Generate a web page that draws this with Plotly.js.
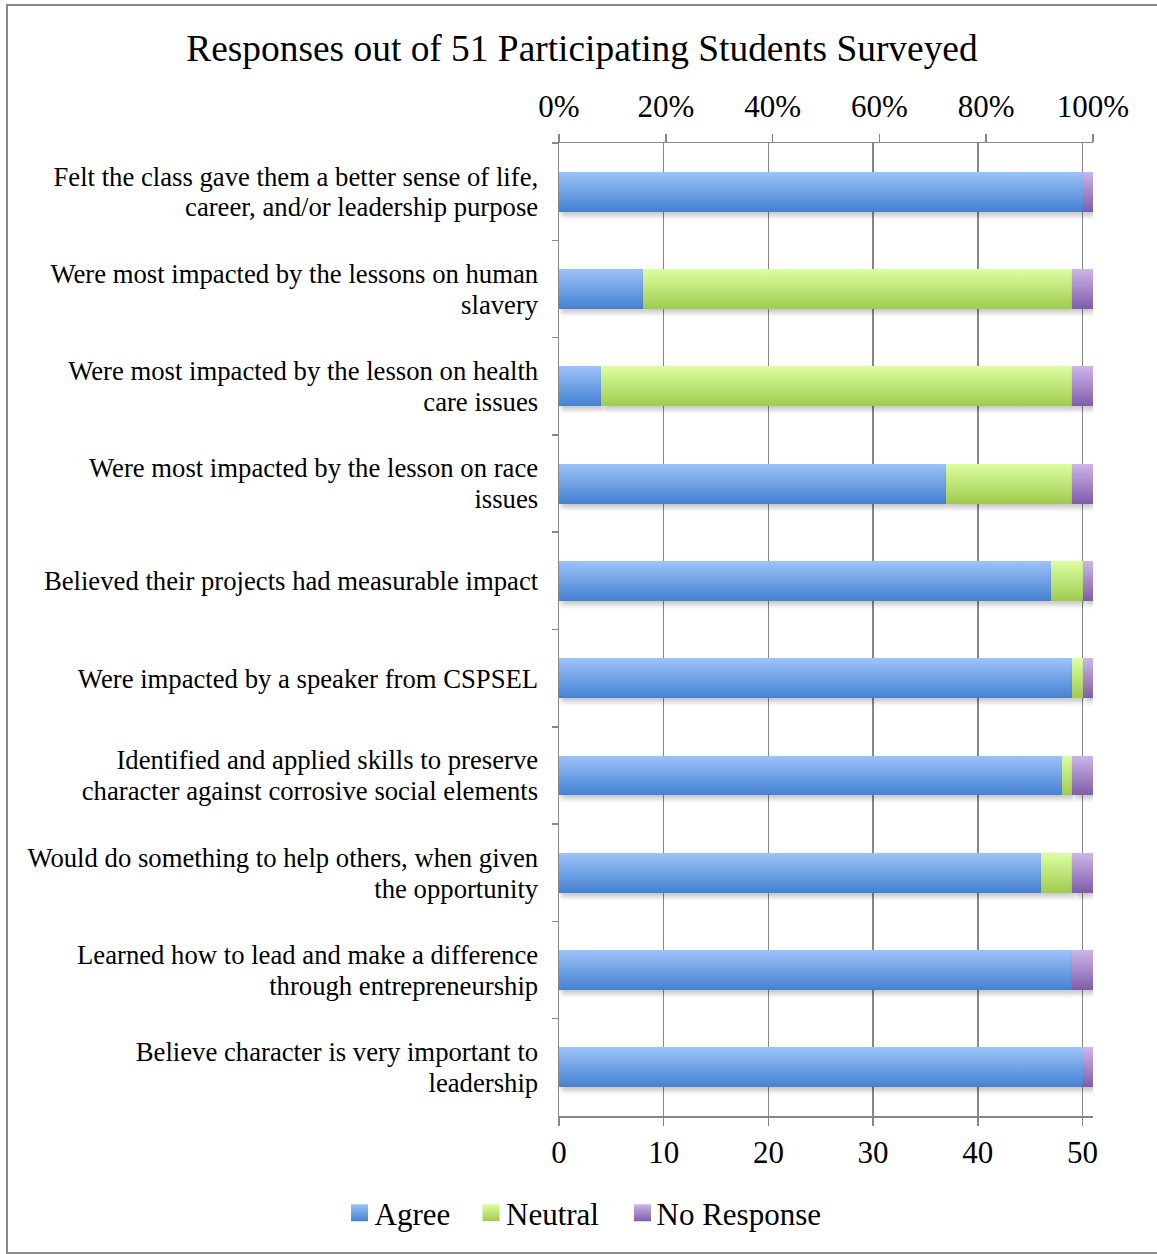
<!DOCTYPE html>
<html>
<head>
<meta charset="utf-8">
<script src="https://cdn.plot.ly/plotly-3.0.1.min.js"></script>
<style>
  html, body { margin: 0; padding: 0; background: #ffffff; }
  #chart { width: 1157px; height: 1254px; }
</style>
</head>
<body>
<div id="chart"></div>
<script>
// ---- data (top to bottom as in the reference) ----
const categories = [
  "Felt the class gave them a better sense of life,<br>career, and/or leadership purpose",
  "Were most impacted by the lessons on human<br>slavery",
  "Were most impacted by the lesson on health<br>care issues",
  "Were most impacted by the lesson on race<br>issues",
  "Believed their projects had measurable impact",
  "Were impacted by a speaker from CSPSEL",
  "Identified and applied skills to preserve<br>character against corrosive social elements",
  "Would do something to help others, when given<br>the opportunity",
  "Learned how to lead and make a difference<br>through entrepreneurship",
  "Believe character is very important to<br>leadership"
];
const agree      = [50, 8, 4, 37, 47, 49, 48, 46, 49, 50];
const neutral    = [0, 41, 45, 12, 3, 1, 1, 3, 0, 0];
const noResponse = [1, 2, 2, 2, 1, 1, 2, 2, 2, 1];
const seriesNames = ["Agree", "Neutral", "No Response"];
const countTicks = [0, 10, 20, 30, 40, 50];
const pctTicks = [0, 0.2, 0.4, 0.6, 0.8, 1.0];
const pctTickText = ["0%", "20%", "40%", "60%", "80%", "100%"];
const totalStudents = 51;
const chartTitle = "Responses out of 51 Participating Students Surveyed";

// ---- styles ----
const FONT = '"Liberation Serif", "Times New Roman", Times, serif';
const AXIS_GRAY = "#878787";
const CAT_SIZE = 26.7;
const gradients = [
  {id: "gAgree", top: "#9dc3fa", bottom: "#4581d0", solid: "#6fa2e6"},
  {id: "gNeutral", top: "#dcffa2", bottom: "#9fcb4e", solid: "#bfe679"},
  {id: "gNoResp", top: "#cdb6ea", bottom: "#7e5da8", solid: "#a589c8"}
];
const legendIds = ["legend", "legend2", "legend3"];
// page-pixel x of each legend box, and swatch offset inside the entry
const legendLeftPx = [334.5, 466, 616.5];
const swatchShift = [5, 5, 6];

const seriesValues = [agree, neutral, noResponse];
const traces = seriesValues.map((vals, i) => ({
  type: "bar",
  orientation: "h",
  name: seriesNames[i],
  legend: legendIds[i],
  y: categories,
  x: vals,
  xaxis: "x",
  yaxis: "y",
  width: 0.41,
  marker: {color: gradients[i].solid, line: {width: 0}},
  hoverinfo: "x+name"
}));
// invisible carrier so that the top (percentage) axis is drawn
traces.push({
  type: "scatter",
  mode: "none",
  x: pctTicks,
  y: pctTicks.map(() => categories[0]),
  xaxis: "x2",
  yaxis: "y",
  showlegend: false,
  hoverinfo: "skip"
});

// plot area in page pixels: 559..1093 x, 143..1116 y
const PL = 559, PR = 1093, PT = 143, PB = 1116;
const px2paperX = p => (p - PL) / (PR - PL);
const px2paperY = p => (PB - p) / (PB - PT);

function legendCfg(i) {
  return {
    orientation: "h",
    xref: "container", x: legendLeftPx[i] / 1157, xanchor: "left",
    yref: "container", y: 1 - 1213 / 1254, yanchor: "middle",
    font: {family: FONT, size: 31, color: "#000000"},
    itemclick: false, itemdoubleclick: false,
    bgcolor: "rgba(0,0,0,0)", borderwidth: 0
  };
}

const layout = {
  width: 1157,
  height: 1254,
  paper_bgcolor: "#ffffff",
  plot_bgcolor: "#ffffff",
  font: {family: FONT, color: "#000000", size: CAT_SIZE},
  barmode: "stack",
  margin: {l: PL, r: 1157 - PR, t: PT, b: 1254 - PB, pad: 0},
  title: {
    text: chartTitle,
    font: {family: FONT, size: 37.4, color: "#000000"},
    xref: "container", x: 0.503, xanchor: "center",
    yref: "container", y: 1 - 48 / 1254, yanchor: "middle"
  },
  xaxis: {
    range: [0, totalStudents],
    tickmode: "array",
    tickvals: countTicks,
    ticktext: countTicks.map(String),
    ticks: "outside", ticklen: 8, tickwidth: 1.5, tickcolor: AXIS_GRAY,
    showline: true, linecolor: AXIS_GRAY, linewidth: 1.5,
    showgrid: true, gridcolor: AXIS_GRAY, gridwidth: 1.5,
    zeroline: false,
    tickfont: {family: FONT, size: 31, color: "#000000"},
    ticklabelstandoff: 0,
    fixedrange: true
  },
  xaxis2: {
    overlaying: "x",
    anchor: "y",
    side: "top",
    range: [0, 1],
    tickmode: "array",
    tickvals: pctTicks,
    ticktext: pctTickText,
    ticks: "outside", ticklen: 8, tickwidth: 1.5, tickcolor: AXIS_GRAY,
    showline: true, linecolor: AXIS_GRAY, linewidth: 1.5,
    showgrid: false, zeroline: false,
    tickfont: {family: FONT, size: 31, color: "#000000"},
    ticklabelstandoff: 4,
    fixedrange: true
  },
  yaxis: {
    type: "category",
    autorange: "reversed",
    tickson: "boundaries",
    ticks: "outside", ticklen: 6, tickwidth: 1.5, tickcolor: AXIS_GRAY,
    showline: true, linecolor: AXIS_GRAY, linewidth: 1.5,
    showgrid: false, zeroline: false,
    tickfont: {family: FONT, size: CAT_SIZE, color: "#000000"},
    ticklabelstandoff: 14,
    fixedrange: true
  },
  showlegend: true,
  legend: legendCfg(0),
  legend2: legendCfg(1),
  legend3: legendCfg(2),
  shapes: [{
    type: "rect",
    xref: "paper", yref: "paper",
    x0: px2paperX(7), x1: px2paperX(1165),
    y0: px2paperY(1253), y1: px2paperY(5),
    line: {color: "#8a8a8a", width: 2},
    fillcolor: "rgba(0,0,0,0)",
    layer: "below"
  }]
};

function polish(gd) {
  const svg = gd.querySelector("svg.main-svg");
  if (!svg) return;
  const NS = "http://www.w3.org/2000/svg";
  let defs = svg.querySelector("defs");
  if (!defs) { defs = document.createElementNS(NS, "defs"); svg.insertBefore(defs, svg.firstChild); }
  gradients.forEach(g => {
    if (defs.querySelector("#" + g.id)) return;
    const lg = document.createElementNS(NS, "linearGradient");
    lg.setAttribute("id", g.id);
    lg.setAttribute("x1", "0"); lg.setAttribute("y1", "0");
    lg.setAttribute("x2", "0"); lg.setAttribute("y2", "1");
    [[0, g.top], [1, g.bottom]].forEach(([o, c]) => {
      const s = document.createElementNS(NS, "stop");
      s.setAttribute("offset", String(o));
      s.setAttribute("stop-color", c);
      lg.appendChild(s);
    });
    defs.appendChild(lg);
  });
  if (!defs.querySelector("#barShadow")) {
    const f = document.createElementNS(NS, "filter");
    f.setAttribute("id", "barShadow");
    f.setAttribute("x", "-5%"); f.setAttribute("y", "-20%");
    f.setAttribute("width", "110%"); f.setAttribute("height", "160%");
    const ds = document.createElementNS(NS, "feDropShadow");
    ds.setAttribute("dx", "2"); ds.setAttribute("dy", "4");
    ds.setAttribute("stdDeviation", "2.5");
    ds.setAttribute("flood-color", "#000000");
    ds.setAttribute("flood-opacity", "0.22");
    f.appendChild(ds);
    defs.appendChild(f);
  }
  gd.querySelectorAll(".barlayer .trace").forEach((t, i) => {
    const g = gradients[i]; if (!g) return;
    t.querySelectorAll("path").forEach(p => {
      p.style.fill = "url(#" + g.id + ")";
      p.setAttribute("filter", "url(#barShadow)");
    });
  });
  // legend swatches: larger gradient squares, nudged toward the text
  legendIds.forEach((lid, i) => {
    const leg = gd.querySelector("g." + lid);
    if (!leg) return;
    const s = swatchShift[i];
    leg.querySelectorAll(".legendpoints path").forEach(p => {
      p.style.fill = "url(#" + gradients[i].id + ")";
      p.setAttribute("d", "M" + (s + 8.5) + ",8.5H" + (s - 8.5) + "V-8.5H" + (s + 8.5) + "Z");
    });
  });
  // tighter line spacing for two-line category labels (Word-like ~1.16em)
  gd.querySelectorAll("g.ytick text").forEach(t => {
    const lines = t.querySelectorAll("tspan.line");
    if (lines.length < 2) return;
    let moved = 0;
    lines.forEach((ln, k) => {
      if (k === 0) return;
      const dy = ln.getAttribute("dy");
      if (dy && /em$/.test(dy)) {
        const v = parseFloat(dy);
        if (v > 0) { ln.setAttribute("dy", (v * 1.16 / 1.3).toFixed(4) + "em"); moved += v * (1.3 - 1.16) / 1.3; }
      }
    });
    const shift = moved * CAT_SIZE / 2;
    const tr = t.getAttribute("transform") || "";
    t.setAttribute("transform", (tr + " translate(0," + shift.toFixed(2) + ")").trim());
  });
}

const gd = document.getElementById("chart");
Plotly.newPlot(gd, traces, layout, {displayModeBar: false, staticPlot: true}).then(() => polish(gd));
</script>
</body>
</html>
